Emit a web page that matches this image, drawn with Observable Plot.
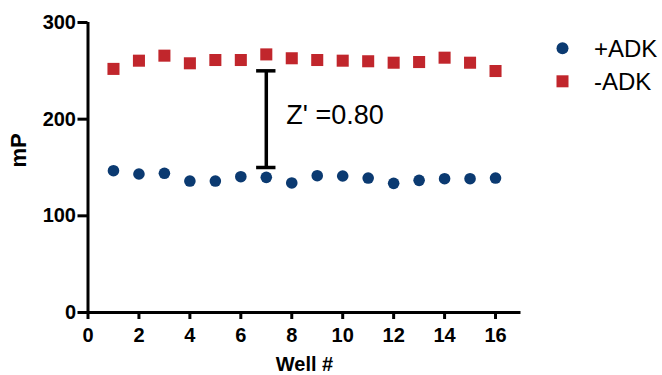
<!DOCTYPE html>
<html><head><meta charset="utf-8">
<script src="https://cdn.jsdelivr.net/npm/d3@7"></script>
<script src="https://cdn.jsdelivr.net/npm/@observablehq/plot@0.6"></script>
<style>
body{margin:0;background:#fff;}
#wrap{position:relative;width:662px;height:375px;}
#legend{position:absolute;left:0;top:0;pointer-events:none;}
</style></head><body><div id="wrap"></div>
<script>
// ---- data ----
const wells = [1, 2, 3, 4, 5, 6, 7, 8, 9, 10, 11, 12, 13, 14, 15, 16];
const plusADK = [146.7, 143.3, 144.0, 136.0, 136.0, 140.5, 139.8, 134.0, 141.5, 141.2, 139.1, 133.6, 136.7, 138.4, 138.4, 139.1];
const minusADK = [252.0, 260.5, 265.7, 257.8, 261.2, 261.2, 267.0, 263.0, 261.2, 260.5, 259.9, 258.4, 259.1, 263.6, 258.4, 249.8];
const seriesNames = ["+ADK", "-ADK"];
const xTicks = [0, 2, 4, 6, 8, 10, 12, 14, 16];
const yTicks = [0, 100, 200, 300];
const xDomain = [0, 17];
const yDomain = [0, 300];
const xLabel = "Well #";
const yLabel = "mP";
const zBar = [{well: 7, low: 150, high: 250, label: "Z' =0.80"}];

// ---- styles ----
const font = '"Liberation Sans", Arial, Helvetica, sans-serif';
const blue = "#0b3a71", red = "#c1262c";
const capHalf = 0.38;

const data = wells.map((w, i) => ({well: w, plus: plusADK[i], minus: minusADK[i]}));

const chart = Plot.plot({
  width: 662, height: 375,
  marginLeft: 87.5, marginRight: 141.5, marginTop: 22, marginBottom: 63,
  style: {fontFamily: font, background: "#fff", color: "#000", overflow: "visible"},
  x: {domain: xDomain},
  y: {domain: yDomain},
  marks: [
    Plot.axisX({ticks: xTicks, tickSize: 7, tickPadding: 8, strokeWidth: 3, fontSize: 20, fontWeight: "bold", label: null}),
    Plot.axisY({ticks: yTicks, tickSize: 10, tickPadding: 2, strokeWidth: 3, fontSize: 20, fontWeight: "bold", label: null}),
    Plot.text([xLabel], {text: d => d, frameAnchor: "bottom", lineAnchor: "bottom", dy: 58, fontSize: 20, fontWeight: "bold", fill: "#000"}),
    Plot.text([yLabel], {text: d => d, frameAnchor: "left", lineAnchor: "middle", rotate: -90, dx: -69, fontSize: 22, fontWeight: "bold", fill: "#000"}),
    Plot.ruleX([0], {strokeWidth: 3}),
    Plot.ruleY([0], {strokeWidth: 3}),
    // Z' bar
    Plot.ruleX(zBar, {x: "well", y1: "low", y2: "high", strokeWidth: 3.5}),
    Plot.ruleY(zBar, {y: "low", x1: d => d.well - capHalf, x2: d => d.well + capHalf, strokeWidth: 3.5}),
    Plot.ruleY(zBar, {y: "high", x1: d => d.well - capHalf, x2: d => d.well + capHalf, strokeWidth: 3.5}),
    Plot.text(zBar, {x: "well", y: d => (d.low + d.high) / 2, text: "label", textAnchor: "start",
      dx: 20, dy: -4, fontSize: 27, fill: "#000"}),
    Plot.dot(data, {x: "well", y: "plus", r: 5.8, fill: blue, stroke: "none"}),
    Plot.dot(data, {x: "well", y: "minus", symbol: "square", r: 6.8, fill: red, stroke: "none"})
  ]
});
const wrap = document.getElementById("wrap");
wrap.appendChild(chart);

// ---- legend (overlay) ----
const lg = d3.select(wrap).append("svg").attr("id", "legend").attr("width", 662).attr("height", 375)
  .style("font-family", font);
lg.append("circle").attr("cx", 562.5).attr("cy", 48.3).attr("r", 6).attr("fill", blue);
lg.append("rect").attr("x", 556.5).attr("y", 75.3).attr("width", 12).attr("height", 12).attr("fill", red);
lg.append("text").attr("x", 594).attr("y", 56.7).attr("font-size", 24).attr("fill", "#000").text(seriesNames[0]);
lg.append("text").attr("x", 594).attr("y", 90).attr("font-size", 24).attr("fill", "#000").text(seriesNames[1]);
</script></body></html>
